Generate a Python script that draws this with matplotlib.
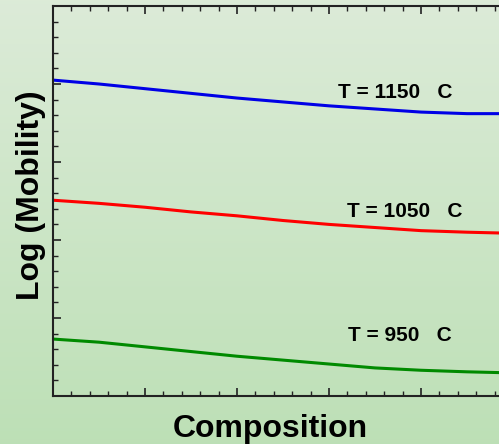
import matplotlib
matplotlib.use("Agg")
import matplotlib.pyplot as plt
from matplotlib.ticker import MultipleLocator, NullFormatter
import numpy as np

plt.rcParams["font.family"] = ["Liberation Sans", "DejaVu Sans"]

# composition positions (arbitrary units) and log mobility
comp = [0.0, 0.5, 1.0, 1.5, 2.0, 2.5, 3.0, 3.5, 4.0, 4.5, 4.85]
mob_1150 = [4.05, 4.00, 3.94, 3.88, 3.82, 3.77, 3.72, 3.68, 3.64, 3.62, 3.62]
mob_1050 = [2.51, 2.47, 2.42, 2.36, 2.31, 2.25, 2.20, 2.16, 2.12, 2.10, 2.09]
mob_950 = [0.73, 0.69, 0.63, 0.57, 0.51, 0.46, 0.41, 0.36, 0.33, 0.31, 0.30]

labels = ["T = 1150   C", "T = 1050   C", "T = 950   C"]
label_pos = [(3.10, 3.82), (3.20, 2.30), (3.21, 0.71)]

fig = plt.figure(figsize=(4.99, 4.44), dpi=100)

# green gradient background
bg = fig.add_axes([0, 0, 1, 1], zorder=-1)
top = np.array([0.863, 0.922, 0.847])
bot = np.array([0.741, 0.878, 0.714])
t = np.linspace(0, 1, 256)[:, None]
grad = (top * (1 - t) + bot * t)[:, None, :]
bg.imshow(grad, aspect="auto", extent=[0, 1, 0, 1])
bg.axis("off")

ax = fig.add_axes([53 / 499, 48 / 444, 460 / 499, 390 / 444])
ax.patch.set_alpha(0)

ax.plot(comp, mob_1150, color="#0000e6", lw=2.2)
ax.plot(comp, mob_1050, color="#ff0000", lw=2.2)
ax.plot(comp, mob_950, color="#008a00", lw=2.2)

for txt, (x, y) in zip(labels, label_pos):
    ax.text(x, y, txt, fontsize=15, fontweight="bold", va="baseline", ha="left")

ax.set_xlim(0, 5)
ax.set_ylim(0, 5)
ax.xaxis.set_major_locator(MultipleLocator(1))
ax.xaxis.set_minor_locator(MultipleLocator(0.2))
ax.yaxis.set_major_locator(MultipleLocator(1))
ax.yaxis.set_minor_locator(MultipleLocator(0.2))
ax.xaxis.set_major_formatter(NullFormatter())
ax.yaxis.set_major_formatter(NullFormatter())
ax.tick_params(which="both", direction="in", top=True, right=False, color="#222222")
ax.tick_params(which="major", length=6, width=1.2)
ax.tick_params(which="minor", length=3.5, width=1.0)

ax.spines["right"].set_visible(False)
for s in ["left", "top", "bottom"]:
    ax.spines[s].set_linewidth(1.5)
    ax.spines[s].set_color("#222222")

fig.text(173 / 499, 7 / 444, "Composition", fontsize=23, fontweight="bold",
         ha="left", va="baseline")
fig.text(31 / 499, 1 - 195 / 444, "Log (Mobility)", fontsize=23, fontweight="bold",
         rotation=90, ha="center", va="center")

fig.savefig("out.png", dpi=100)
